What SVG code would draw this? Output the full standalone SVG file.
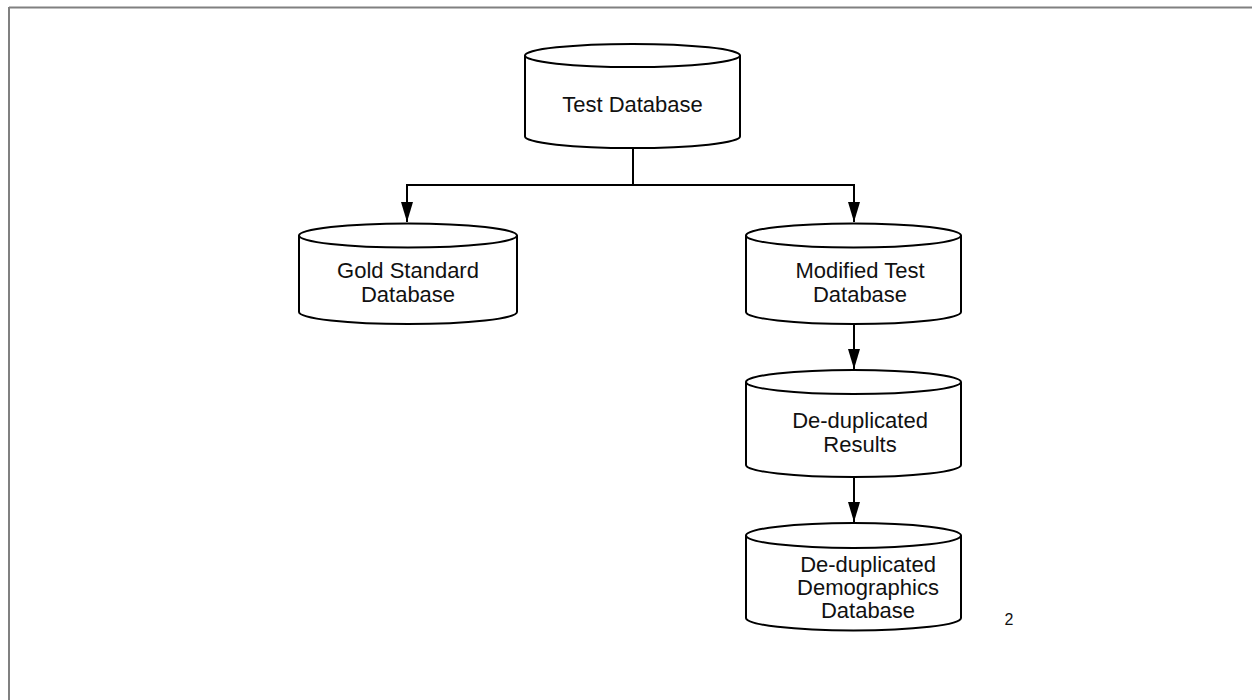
<svg xmlns="http://www.w3.org/2000/svg" width="1252" height="700" viewBox="0 0 1252 700">
<defs>
<style>
.cyl{fill:#fff;stroke:#000;stroke-width:2}
.rim{fill:none;stroke:#000;stroke-width:2}
.lbl{font-family:"Liberation Sans",Arial,sans-serif;font-size:22px;fill:#111;text-anchor:middle}
.conn{fill:none;stroke:#000;stroke-width:2}
</style>
<marker id="ah" viewBox="0 0 20 12" refX="20" refY="6" markerWidth="20" markerHeight="12" markerUnits="userSpaceOnUse" orient="auto">
<path d="M0,0 L20,6 L0,12 Z" fill="#000"/>
</marker>
</defs>
<rect width="1252" height="700" fill="#fff"/>
<g id="frame" stroke="#808080" stroke-width="2" fill="none">
<line x1="9" y1="7.5" x2="1252" y2="7.5"/>
<line x1="9" y1="7" x2="9" y2="700"/>
</g>
<g id="connectors">
<path class="conn" d="M633,148 V185"/>
<path class="conn" d="M407,185 H854" />
<path class="conn" d="M407,184 V222" marker-end="url(#ah)"/>
<path class="conn" d="M854,184 V222" marker-end="url(#ah)"/>
<path class="conn" d="M854,324 V369" marker-end="url(#ah)"/>
<path class="conn" d="M854,477 V522" marker-end="url(#ah)"/>
</g>
<g id="test-database">
<path class="cyl" d="M525,55.5 V136.5 A107.5,11.5 0 0 0 740,136.5 V55.5 A107.5,11.5 0 0 0 525,55.5 Z"/>
<path class="rim" d="M525,55.5 A107.5,11.5 0 0 0 740,55.5"/>
<text class="lbl" x="632.5" y="112">Test Database</text>
</g>
<g id="gold-standard-database">
<path class="cyl" d="M299,235.5 V312 A109,12 0 0 0 517,312 V235.5 A109,12 0 0 0 299,235.5 Z"/>
<path class="rim" d="M299,235.5 A109,12 0 0 0 517,235.5"/>
<text class="lbl" x="408" y="278">Gold Standard</text>
<text class="lbl" x="408" y="302">Database</text>
</g>
<g id="modified-test-database">
<path class="cyl" d="M746,235.5 V312 A107.5,12 0 0 0 961,312 V235.5 A107.5,12 0 0 0 746,235.5 Z"/>
<path class="rim" d="M746,235.5 A107.5,12 0 0 0 961,235.5"/>
<text class="lbl" x="860" y="278">Modified Test</text>
<text class="lbl" x="860" y="302">Database</text>
</g>
<g id="deduplicated-results">
<path class="cyl" d="M746,382 V465 A107.5,12 0 0 0 961,465 V382 A107.5,12 0 0 0 746,382 Z"/>
<path class="rim" d="M746,382 A107.5,12 0 0 0 961,382"/>
<text class="lbl" x="860" y="428">De-duplicated</text>
<text class="lbl" x="860" y="452">Results</text>
</g>
<g id="deduplicated-demographics-database">
<path class="cyl" d="M746,535.5 V618 A107.5,12.5 0 0 0 961,618 V535.5 A107.5,12.5 0 0 0 746,535.5 Z"/>
<path class="rim" d="M746,535.5 A107.5,12.5 0 0 0 961,535.5"/>
<text class="lbl" x="868" y="572">De-duplicated</text>
<text class="lbl" x="868" y="595">Demographics</text>
<text class="lbl" x="868" y="618">Database</text>
</g>
<text id="page-number" x="1009" y="625" font-family="Liberation Sans, Arial, sans-serif" font-size="16" fill="#111" text-anchor="middle">2</text>
</svg>
